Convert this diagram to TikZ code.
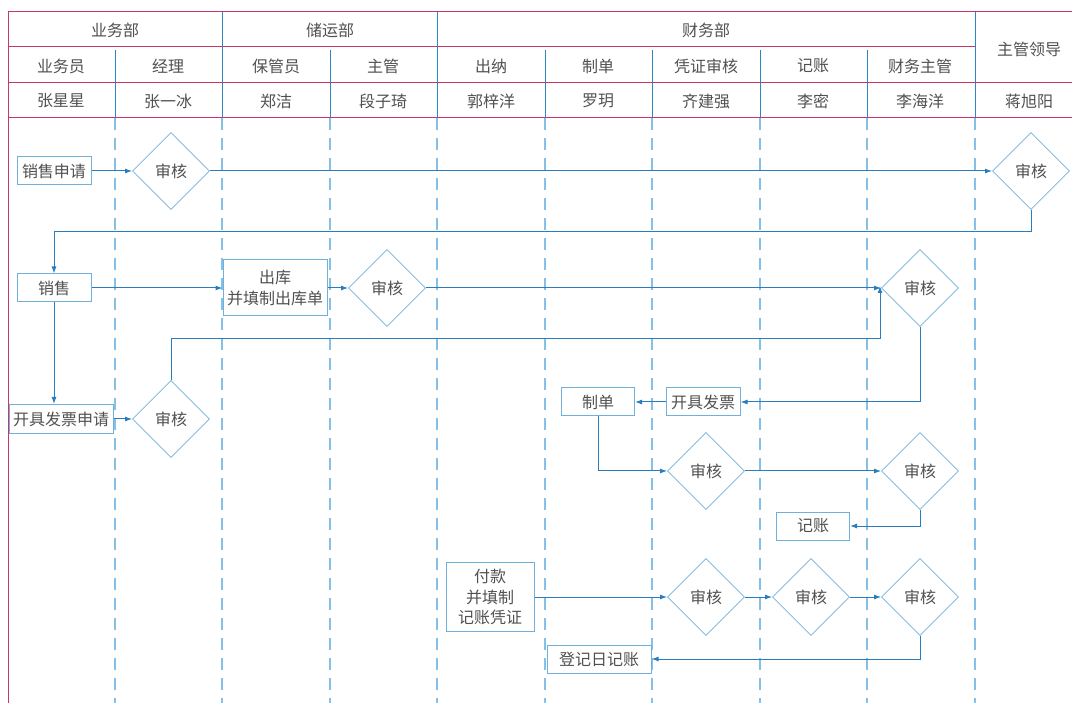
\documentclass[tikz,border=0pt]{standalone}
\usepackage{fontspec}
\setmainfont{Noto Sans CJK SC}
\usetikzlibrary{positioning,shapes.geometric,arrows.meta}
\definecolor{headline}{HTML}{C8376A}
\definecolor{laneblue}{HTML}{2B86C5}
\definecolor{dashblue}{HTML}{85C0E8}
\definecolor{boxblue}{HTML}{72B0DC}
\definecolor{flowblue}{HTML}{2A7DBD}
\definecolor{txtgray}{HTML}{505050}

\begin{document}
\begin{tikzpicture}[x=1pt,y=-1pt,
  every node/.style={font=\fontsize{16}{20.5}\selectfont, text=txtgray},
  mybox/.style={draw=boxblue, line width=1pt, inner sep=2pt, align=center, minimum height=28pt},
  mydiamond/.style={diamond, draw=boxblue, line width=0.8pt, minimum width=77pt, minimum height=77pt, inner sep=0pt},
  flow/.style={draw=flowblue, line width=1pt, -{Latex[length=7pt,width=5pt]}},
  lane/.style={dashblue, line width=1.2pt, dash pattern=on 12pt off 8pt},
  ]
  \useasboundingbox (0,0) rectangle (1072,703);

  % header grid
  \foreach \x in {115,222,330,437,545,652,760,867,975}
    \draw[lane] (\x,118) -- (\x,703);
  \foreach \x in {115,330,545,652,760,867}
    \draw[laneblue, line width=1pt] (\x,50) -- (\x,118);
  \draw[laneblue, line width=1pt] (222,12) -- (222,118) (437,12) -- (437,118) (975,12) -- (975,118);
  \draw[headline, line width=1pt] (8,12) -- (1072,12) (8,47) -- (975,47)
    (8,83) -- (1072,83) (8,118) -- (1072,118) (8,12) -- (8,703);

  \node (dept1) at (115,30) {业务部};
  \node (dept2) at (330,30) {储运部};
  \node (dept3) at (706,30) {财务部};
  \node (dept4) at (1029,49) {主管领导};
  \foreach \x/\role/\who [count=\i] in {61/业务员/张星星, 168/经理/张一冰, 276/保管员/郑洁,
      383/主管/段子琦, 491/出纳/郭梓洋, 598/制单/罗玥, 706/凭证审核/齐建强,
      813/记账/李密, 920/财务主管/李海洋}
    {
      \node (role\i) at (\x,66) {\role};
      \node (person\i) at (\x,101) {\who};
    }
  \node (person10) at (1029,101) {蒋旭阳};

  % steps
  \node[mybox, minimum width=74pt] (xsqq) at (54,171) {销售申请};
  \node[mydiamond] (sh1) at (171,171) {审核};
  \node[mydiamond] (sh2) at (1031,171) {审核};
  \node[mybox, minimum width=74pt] (xs) at (54,288) {销售};
  \node[mybox, minimum width=104pt, minimum height=56pt] (ck) at (275,288) {出库\\并填制出库单};
  \node[mydiamond] (sh3) at (387,288) {审核};
  \node[mydiamond] (sh4) at (920,288) {审核};
  \node[mybox, minimum width=104pt, minimum height=29pt] (kjsq) at (61,419) {开具发票申请};
  \node[mydiamond] (sh5) at (171,419) {审核};
  \node[mybox, minimum width=74pt] (kjfp) at (703,402) {开具发票};
  \node[mybox, minimum width=73pt] (zd) at (598,402) {制单};
  \node[mydiamond] (sh6) at (706,471) {审核};
  \node[mydiamond] (sh7) at (920,471) {审核};
  \node[mybox, minimum width=73pt] (jz) at (813,526) {记账};
  \node[mybox, minimum width=88pt, minimum height=69pt] (fk) at (490,597) {付款\\并填制\\记账凭证};
  \node[mydiamond] (sh8) at (706,597) {审核};
  \node[mydiamond] (sh9) at (811,597) {审核};
  \node[mydiamond] (sh10) at (920,597) {审核};
  \node[mybox, minimum width=104pt] (djrjz) at (599,659) {登记日记账};
  \coordinate (turn) at (880,339);

  % connectors
  \draw[flow] (xsqq) -- (sh1);
  \draw[flow] (sh1) -- (sh2);
  \draw[flow] (sh2.south) -- ++(0,22) -| (xs.north);
  \draw[flow] (xs) -- (ck);
  \draw[flow] (ck) -- (sh3);
  \draw[flow] (sh3) -- (sh4);
  \draw[flow] (xs.south) -- (xs.south |- kjsq.north);
  \draw[flow] (kjsq) -- (sh5);
  \draw[flow] (sh5.north) |- (turn) -- ([yshift=2pt]turn |- sh4.west);
  \draw[flow] (sh4.south) |- (kjfp.east);
  \draw[flow] (kjfp) -- (zd);
  \draw[flow] (zd.south) |- (sh6.west);
  \draw[flow] (sh6) -- (sh7);
  \draw[flow] (sh7.south) |- (jz.east);
  \draw[flow] (fk) -- (sh8);
  \draw[flow] (sh8) -- (sh9);
  \draw[flow] (sh9) -- (sh10);
  \draw[flow] (sh10.south) |- (djrjz.east);

\end{tikzpicture}
\end{document}
